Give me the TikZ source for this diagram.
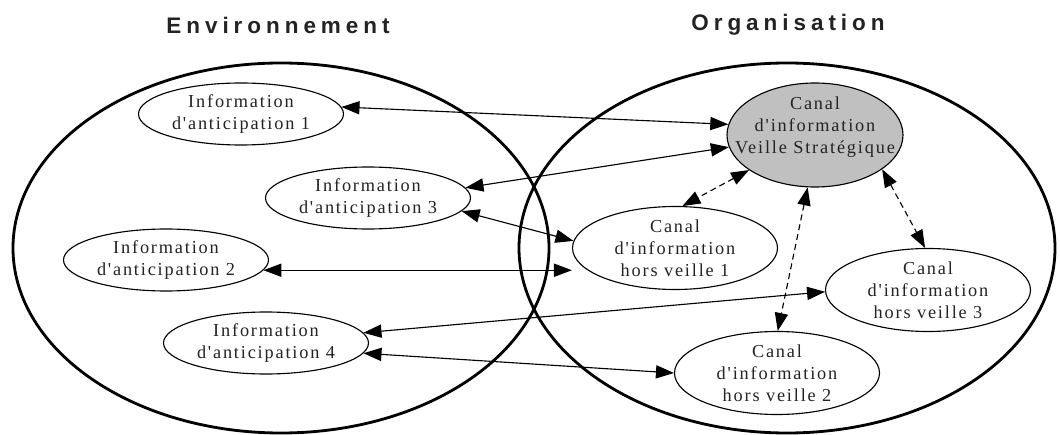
\documentclass[tikz,border=0pt]{standalone}
\usepackage{fontspec}
\setmainfont{Liberation Serif}
\newfontfamily\labelfont[LetterSpace=10]{Liberation Serif}
\newfontfamily\headfont[LetterSpace=22]{Liberation Sans}
\usetikzlibrary{arrows.meta,shapes.geometric}
\definecolor{vsgray}{RGB}{192,192,192}
\definecolor{inkgray}{RGB}{35,35,35}

\begin{document}
\begin{tikzpicture}[
    zone/.style={ellipse, draw, line width=2pt, minimum width=13.4cm, minimum height=9.25cm},
    title/.style={font=\headfont\bfseries\fontsize{16}{19}\selectfont\color{inkgray}},
    info/.style={ellipse, draw, thick, fill=white, inner sep=0pt, align=center, minimum width=5.125cm, minimum height=1.55cm, font=\labelfont\fontsize{13}{15.5}\selectfont\color{inkgray}},
    canal/.style={info, minimum height=2.075cm, inner ysep=-0.1cm},
    veille/.style={info, fill=vsgray, minimum width=4.4cm, minimum height=2.6cm, inner xsep=-0.45cm, inner ysep=-0.15cm, text depth=0.5cm},
    link/.style={line width=0.8pt, {Triangle[length=0.45cm,width=0.33cm]}-{Triangle[length=0.45cm,width=0.33cm]}},
    dlink/.style={link, dash pattern=on 0.15cm off 0.1cm}
]
    \useasboundingbox (0,0) rectangle (26.5,10.85);

    % Two overlapping zones
    \node[zone] (env) at (7.025,4.65) {};
    \node[zone] (org) at (19.675,4.65) {};
    \node[title] (envt) at (6.95,10.225) {Environnement};
    \node[title] (orgt) at (19.7,10.225) {Organisation};

    % Anticipation information (environment side)
    \node[info] (info1) at (6.025,8.0) {Information\\d'anticipation 1};
    \node[info] (info3) at (9.2,5.9) {Information\\d'anticipation 3};
    \node[info] (info2) at (4.15,4.35) {Information\\d'anticipation 2};
    \node[info] (info4) at (6.65,2.275) {Information\\d'anticipation 4};

    % Channels (organisation side)
    \node[veille] (vs) at (20.375,7.475) {Canal\\d'information\\Veille Stratégique};
    \node[canal] (hv1) at (16.875,4.65) {Canal\\d'information\\hors veille 1};
    \node[canal] (hv3) at (23.2,3.6) {Canal\\d'information\\hors veille 3};
    \node[canal] (hv2) at (19.425,1.525) {Canal\\d'information\\hors veille 2};

    % Solid links
    \draw[link] (info1.4) -- (vs.173);
    \draw[link] (info3.6) -- (vs.188);
    \draw[link] (info3.-8) -- (hv1.176);
    \draw[link] (info2.-6) -- (info2.-6 -| hv1.west);
    \draw[link] (info4.6) -- (hv3.181);
    \draw[link] (info4.-6) -- (hv2.180);

    % Dashed links
    \draw[dlink] (vs.208) -- (hv1.80);
    \draw[dlink] (vs.262) -- (hv2.89);
    \draw[dlink] (vs.-27) -- (hv3.94);
\end{tikzpicture}
\end{document}
